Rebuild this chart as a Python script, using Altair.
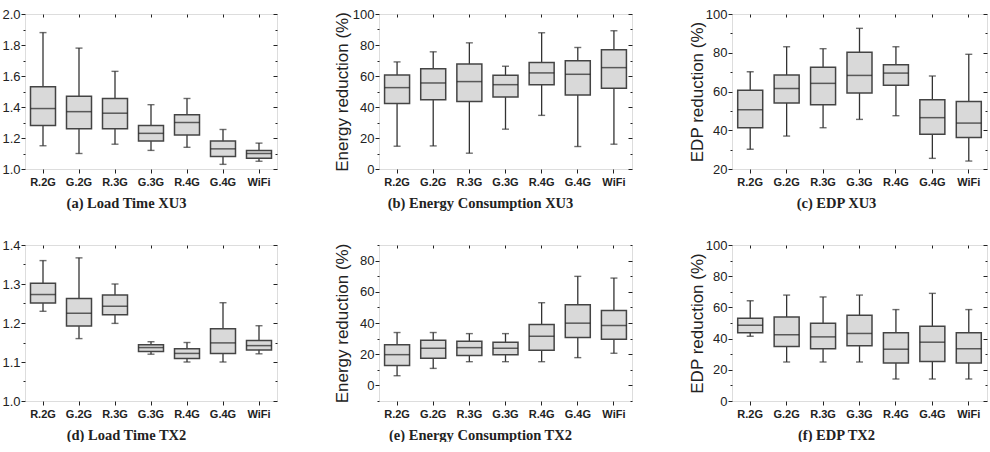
import altair as alt
import pandas as pd

CATS = ["R.2G", "G.2G", "R.3G", "G.3G", "R.4G", "G.4G", "WiFi"]

# (a) Load Time XU3
A_MIN = [1.15, 1.10, 1.16, 1.12, 1.14, 1.03, 1.05]
A_Q1 = [1.28, 1.26, 1.26, 1.18, 1.22, 1.08, 1.07]
A_MED = [1.39, 1.37, 1.36, 1.23, 1.30, 1.13, 1.10]
A_Q3 = [1.53, 1.47, 1.455, 1.28, 1.35, 1.18, 1.12]
A_MAX = [1.88, 1.78, 1.63, 1.415, 1.455, 1.255, 1.167]

# (b) Energy Consumption XU3
B_MIN = [14.7, 14.9, 10.2, 25.7, 34.6, 14.5, 16.0]
B_Q1 = [42.3, 44.7, 43.6, 46.4, 54.4, 47.7, 52.1]
B_MED = [52.5, 55.5, 56.4, 54.4, 62.0, 61.1, 65.4]
B_Q3 = [60.7, 64.6, 67.8, 60.5, 68.7, 69.8, 76.9]
B_MAX = [69.1, 75.6, 81.4, 66.3, 87.9, 78.4, 89.2]

# (c) EDP XU3
C_MIN = [30.2, 37.0, 41.3, 45.6, 47.5, 25.5, 24.1]
C_Q1 = [41.3, 54.1, 53.2, 59.2, 63.2, 37.9, 36.3]
C_MED = [50.6, 61.6, 64.2, 68.3, 69.5, 46.5, 43.7]
C_Q3 = [60.6, 68.5, 72.5, 80.2, 73.8, 55.8, 54.9]
C_MAX = [70.2, 83.1, 82.1, 92.6, 83.1, 68.0, 79.2]

# (d) Load Time TX2
D_MIN = [1.230, 1.160, 1.199, 1.120, 1.100, 1.100, 1.121]
D_Q1 = [1.251, 1.192, 1.221, 1.127, 1.109, 1.122, 1.131]
D_MED = [1.273, 1.225, 1.243, 1.137, 1.122, 1.149, 1.142]
D_Q3 = [1.302, 1.263, 1.272, 1.144, 1.134, 1.185, 1.155]
D_MAX = [1.360, 1.367, 1.300, 1.152, 1.150, 1.252, 1.193]

# (e) Energy Consumption TX2
E_MIN = [6.2, 10.9, 15.2, 15.2, 15.2, 17.8, 20.6]
E_Q1 = [12.7, 17.4, 19.1, 19.7, 22.5, 30.7, 29.6]
E_MED = [19.7, 23.8, 24.2, 23.8, 31.5, 39.9, 38.4]
E_Q3 = [26.0, 29.0, 28.3, 27.7, 39.0, 51.7, 48.0]
E_MAX = [33.9, 33.9, 33.2, 33.2, 53.0, 69.9, 68.8]

# (f) EDP TX2
F_MIN = [41.5, 25.0, 25.0, 25.0, 14.1, 14.1, 14.1]
F_Q1 = [43.7, 35.0, 33.5, 35.4, 24.3, 25.4, 24.3]
F_MED = [48.6, 42.4, 41.1, 43.3, 33.2, 37.7, 33.5]
F_Q3 = [53.1, 53.9, 49.9, 55.0, 43.7, 47.9, 43.7]
F_MAX = [64.3, 67.9, 66.7, 67.9, 58.6, 69.0, 58.6]

TICKS_A = [1.0, 1.2, 1.4, 1.6, 1.8, 2.0]
MINOR_A = [1.1, 1.3, 1.5, 1.7, 1.9]
TICKS_PCT = [0, 20, 40, 60, 80, 100]
MINOR_PCT = [10, 30, 50, 70, 90]
TICKS_C = [20, 40, 60, 80, 100]
MINOR_C = [30, 50, 70, 90]
TICKS_D = [1.0, 1.1, 1.2, 1.3, 1.4]
MINOR_D = [1.05, 1.15, 1.25, 1.35]
TICKS_E = [0, 20, 40, 60, 80]
MINOR_E = [-10, 10, 30, 50, 70, 90]

SANS = "Liberation Sans"
SERIF = "Liberation Serif"
DARK = "#222222"
BOXW = 25


def panel(mins, q1, med, q3, maxs, domain, major, minor, fmt, ytitle,
          subtitle, width, height, extent, tpad, sub_x):
    df = pd.DataFrame({"cat": CATS, "lo": mins, "q1": q1, "med": med,
                       "q3": q3, "hi": maxs})
    base = alt.Chart(df)
    xs = alt.Scale(domain=CATS, paddingInner=0, paddingOuter=0)
    ys = alt.Scale(domain=domain, nice=False, zero=False)

    x_bottom = alt.X("cat:N", scale=xs, sort=CATS, axis=alt.Axis(
        orient="bottom", title=subtitle, labelAngle=0, labelFont=SANS,
        labelFontWeight="bold", labelFontSize=11, labelColor=DARK,
        tickSize=4, tickColor=DARK, domain=False, labelPadding=3,
        titleFont=SERIF, titleFontSize=14.5, titleFontWeight="bold",
        titlePadding=9, titleColor=DARK, titleX=sub_x, titleAlign="center"))
    x_top = alt.X("cat:N", scale=xs, sort=CATS, axis=alt.Axis(
        orient="top", labels=False, title=None, domain=False, tickSize=3,
        offset=-3, tickColor=DARK, minExtent=0, maxExtent=3))
    x_none = alt.X("cat:N", scale=xs, sort=CATS, axis=None)

    left_kw = dict(orient="left", values=major, format=fmt, labelFont=SANS,
                   labelFontSize=13, labelColor=DARK, tickSize=4,
                   tickColor=DARK, domain=False, labelPadding=1,
                   minExtent=extent, maxExtent=extent, grid=False)
    if ytitle:
        left_kw.update(title=ytitle, titleFont=SANS, titleFontSize=17,
                       titleFontWeight="normal", titleColor=DARK,
                       titlePadding=tpad)
    else:
        left_kw.update(title=None)
    y_left = alt.Axis(**left_kw)
    y_left_minor = alt.Axis(orient="left", values=minor, labels=False,
                            title=None, domain=False, tickSize=2,
                            tickColor=DARK, minExtent=0, maxExtent=2,
                            grid=False)
    y_right = alt.Axis(orient="right", values=major, labels=False,
                       title=None, domain=False, tickSize=4, offset=-4,
                       tickColor=DARK, minExtent=0, maxExtent=4, grid=False)
    y_right_minor = alt.Axis(orient="right", values=minor, labels=False,
                             title=None, domain=False, tickSize=2, offset=-2,
                             tickColor=DARK, minExtent=0, maxExtent=2,
                             grid=False)

    whisk = base.mark_rule(color="#333333", strokeWidth=1.3).encode(
        x=x_bottom,
        y=alt.Y("lo:Q", scale=ys, axis=y_left),
        y2="hi:Q")
    box = base.mark_bar(size=BOXW, fill="#d9d9d9", stroke="#444444",
                        strokeWidth=1.5).encode(
        x=x_top,
        y=alt.Y("q1:Q", scale=ys, axis=y_left_minor),
        y2="q3:Q")
    median = base.mark_tick(size=BOXW, thickness=1.5, color="#222222").encode(
        x=x_none,
        y=alt.Y("med:Q", scale=ys, axis=y_right))
    cap_lo = base.mark_tick(size=7, thickness=1.4, color="#333333").encode(
        x=x_none,
        y=alt.Y("lo:Q", scale=ys, axis=y_right_minor))
    cap_hi = base.mark_tick(size=7, thickness=1.4, color="#333333").encode(
        x=x_none,
        y=alt.Y("hi:Q", scale=ys, axis=None))

    return alt.layer(whisk, box, median, cap_lo, cap_hi).resolve_axis(
        x="independent", y="independent").properties(width=width,
                                                     height=height)


pa = panel(A_MIN, A_Q1, A_MED, A_Q3, A_MAX, [1.0, 2.0], TICKS_A, MINOR_A,
           ".1f", None, "(a) Load Time XU3", 252, 155, 24, 2, 101)
pb = panel(B_MIN, B_Q1, B_MED, B_Q3, B_MAX, [0, 100], TICKS_PCT, MINOR_PCT,
           "d", "Energy reduction (%)", "(b) Energy Consumption XU3", 253, 155,
           26, 2, 101)
pc = panel(C_MIN, C_Q1, C_MED, C_Q3, C_MAX, [20, 100], TICKS_C, MINOR_C,
           "d", "EDP reduction (%)", "(c) EDP XU3", 255, 155, 25, 1, 104)
pd_ = panel(D_MIN, D_Q1, D_MED, D_Q3, D_MAX, [1.0, 1.4], TICKS_D, MINOR_D,
            ".1f", None, "(d) Load Time TX2", 252, 156, 24, 2, 101)
pe = panel(E_MIN, E_Q1, E_MED, E_Q3, E_MAX, [-10, 90], TICKS_E, MINOR_E,
           "d", "Energy reduction (%)", "(e) Energy Consumption TX2", 253, 156,
           26, 2, 101)
pf = panel(F_MIN, F_Q1, F_MED, F_Q3, F_MAX, [0, 100], TICKS_PCT, MINOR_PCT,
           "d", "EDP reduction (%)", "(f) EDP TX2", 255, 156, 25, 1, 104)

row1 = alt.hconcat(pa, pb, pc, spacing=54)
row2 = alt.hconcat(pd_, pe, pf, spacing=54)

chart = alt.vconcat(row1, row2, spacing=28).properties(
    padding={"left": 0, "top": 7, "right": 0, "bottom": 0}
).configure_view(stroke=DARK, strokeWidth=1.2).configure(background="white")

chart.save("out.html", embed_options={"renderer": "svg", "actions": False})
